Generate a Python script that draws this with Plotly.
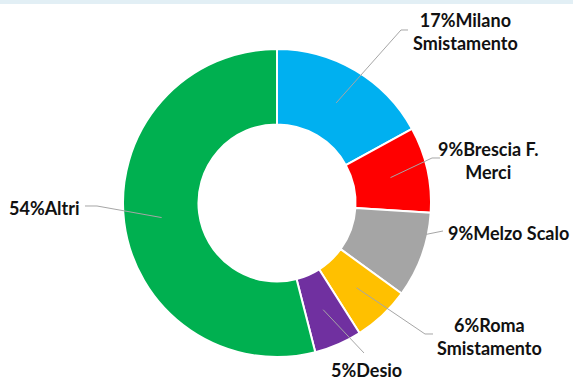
import math
import plotly.graph_objects as go

# data
labels = ['Milano Smistamento', 'Brescia F. Merci', 'Melzo Scalo', 'Roma Smistamento', 'Desio', 'Altri']
values = [17, 9, 9, 6, 5, 54]
colors = ['#00b0f0', '#ff0000', '#a5a5a5', '#ffc000', '#7030a0', '#00b050']
label_text = ['17%Milano<br>Smistamento', '9%Brescia F.<br>Merci', '9%Melzo Scalo',
              '6%Roma<br>Smistamento', '5%Desio', '54%Altri']

W, H = 573, 381
cx, cy, r_out = 277, 203, 154
hole = 0.51

def px(x, y):
    return x / W, 1 - y / H

fig = go.Figure(go.Pie(
    labels=labels, values=values, sort=False, direction='clockwise', rotation=0,
    hole=hole, marker=dict(colors=colors, line=dict(color='white', width=2)),
    textinfo='none', hoverinfo='label+percent', showlegend=False,
    domain=dict(x=[(cx - r_out) / W, (cx + r_out) / W],
                y=[1 - (cy + r_out) / H, 1 - (cy - r_out) / H]),
))

# label placement (pixel positions of text centre) and leader line elbows
text_pos = [(465, 31), (488, 160), (508, 233), (489, 336), (366, 370), (44, 208)]
elbows = [[(401, 30), (408, 30)], [(432, 158), (440, 158)], [(443, 231)],
          [(425, 334), (433, 334)], [(364, 353)], [(97, 206), (85, 206)]]

r_mid = r_out * (1 + hole) / 2
total = sum(values)
cum = 0
shapes = [dict(type='rect', xref='paper', yref='paper', x0=0, x1=1, y0=1 - 4 / H, y1=1,
               fillcolor='#e2eff5', line=dict(width=0), layer='below')]
annotations = []
for i, v in enumerate(values):
    mid = (cum + v / 2) / total * 2 * math.pi
    cum += v
    tx = cx + r_mid * math.sin(mid)
    ty = cy - r_mid * math.cos(mid)
    pts = [(tx, ty)] + elbows[i]
    path = 'M ' + ' L '.join('%f,%f' % px(x, y) for x, y in pts)
    shapes.append(dict(type='path', xref='paper', yref='paper', path=path,
                       line=dict(color='#a6a6a6', width=1)))
    ax, ay = px(*text_pos[i])
    annotations.append(dict(x=ax, y=ay, xref='paper', yref='paper', text=label_text[i],
                            showarrow=False, align='center', xanchor='center', yanchor='middle',
                            font=dict(family='Lato', size=18, color='#111111', weight='bold')))

fig.update_layout(
    width=W, height=H, margin=dict(l=0, r=0, t=0, b=0),
    paper_bgcolor='white', plot_bgcolor='white',
    shapes=shapes, annotations=annotations,
)

fig.write_html('out.html', config={'displayModeBar': False},
               post_script="document.body.style.margin='0';")
